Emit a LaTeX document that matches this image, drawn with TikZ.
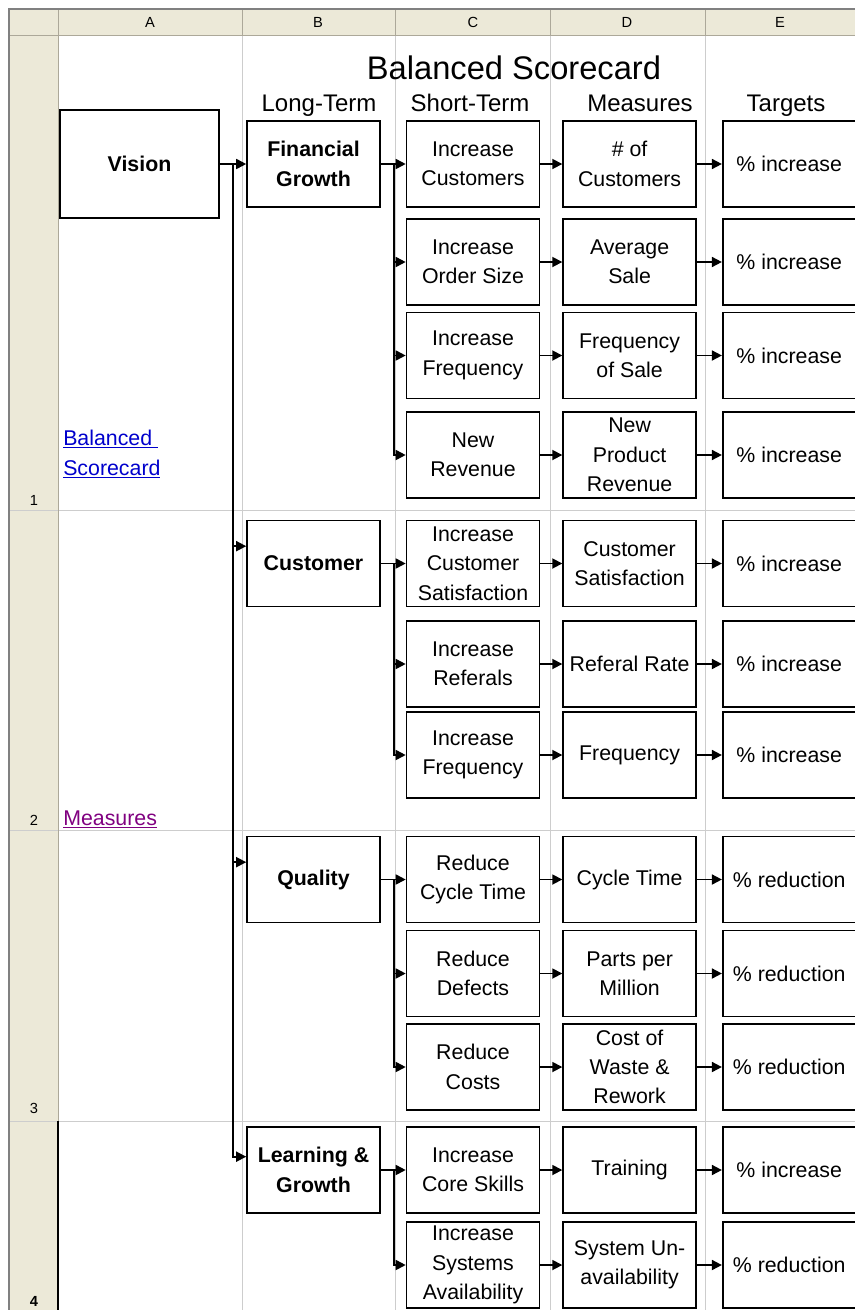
\documentclass[tikz,border=0pt]{standalone}
\usepackage{fontspec}
\setmainfont{Liberation Sans}
\usetikzlibrary{positioning,arrows.meta}
\definecolor{sheethead}{RGB}{236,233,216}
\definecolor{sheetline}{RGB}{205,205,205}
\definecolor{headline}{RGB}{172,168,153}
\definecolor{linkblue}{RGB}{0,0,204}
\definecolor{linkvisited}{RGB}{128,0,128}

\begin{document}
\begin{tikzpicture}[x=0.75pt, y=-0.75pt]
    % Define styles
    \tikzstyle{cell} = [rectangle, draw, line width=1.2pt, fill=white, minimum width=99.75pt, minimum height=64.5pt, inner sep=0pt, align=center, font=\fontsize{16}{22}\selectfont]
    \tikzstyle{theme} = [cell, font=\fontsize{16}{22}\selectfont\bfseries]
    \tikzstyle{arrow} = [line width=1.3pt, -{Triangle[length=7.5pt, width=7.5pt]}]
    \tikzstyle{gridline} = [sheetline, line width=0.75pt]
    \tikzstyle{headtext} = [font=\fontsize{11}{13}\selectfont]
    \tikzstyle{link} = [anchor=base west, inner sep=0pt, align=left, font=\fontsize{16}{22.5}\selectfont]

    % Sheet
    \useasboundingbox (0,0) rectangle (855,1310);
    \fill[sheethead] (9,9) rectangle (855,35);
    \fill[sheethead] (9,35) rectangle (58,1310);
    \foreach \x in {242,395,550,705} \draw[gridline] (\x,35) -- (\x,1310);
    \foreach \y in {510,830,1121} \draw[gridline] (9,\y) -- (855,\y);
    \foreach \x in {58,242,395,550,705} \draw[headline, line width=0.75pt] (\x,9) -- (\x,35);
    \draw[headline, line width=0.75pt] (9,35) -- (855,35);
    \draw[headline, line width=0.75pt] (58,35) -- (58,1310);
    \draw[gray, line width=1pt] (9,1310) -- (9,9) -- (855,9);
    \draw[black, line width=1pt] (58,1121) -- (58,1310);

    % Column and row headings
    \node (hA) [headtext] at (150,22) {A};
    \node (hB) [headtext] at (318,22) {B};
    \node (hC) [headtext] at (473,22) {C};
    \node (hD) [headtext] at (627,22) {D};
    \node (hE) [headtext] at (780,22) {E};
    \node (r1) [headtext, anchor=base] at (34,505) {1};
    \node (r2) [headtext, anchor=base] at (34,825) {2};
    \node (r3) [headtext, anchor=base] at (34,1113) {3};
    \node (r4) [headtext, anchor=base] at (34,1306) {\bfseries 4};

    % Links
    \node (lnkbsc) [link, linkblue] at (63,475) {\underline{Balanced\ }\\\underline{Scorecard}};
    \node (lnkmeas) [link, linkvisited] at (63,825) {\underline{Measures}};

    % Titles
    \node (title) [anchor=base, font=\fontsize{24.5}{28}\selectfont] at (514,79) {Balanced Scorecard};
    \node (longterm) [anchor=base, font=\fontsize{18}{20}\selectfont] at (319,111) {Long-Term};
    \node (shortterm) [anchor=base, font=\fontsize{18}{20}\selectfont] at (470,111) {Short-Term};
    \node (measures) [anchor=base, font=\fontsize{18}{20}\selectfont] at (640,111) {Measures};
    \node (targets) [anchor=base, font=\fontsize{18}{20}\selectfont] at (786,111) {Targets};

    % Nodes
    \node (vision) [theme, minimum width=119.25pt, minimum height=81pt] at (139.5,164) {Vision};
    \node (fin) [theme] at (313.5,164) {Financial\\Growth};
    \node (cust) [theme] at (313.5,563.5) {Customer};
    \node (qual) [theme] at (313.5,879.5) {Quality};
    \node (learn) [theme] at (313.5,1170) {Learning \&\\Growth};

    \node (st1) [cell] at (473,164) {Increase\\Customers};
    \node (st2) [cell] at (473,262) {Increase\\Order Size};
    \node (st3) [cell] at (473,355.5) {Increase\\Frequency};
    \node (st4) [cell] at (473,455) {New\\Revenue};
    \node (st5) [cell] at (473,563.5) {Increase\\Customer\\Satisfaction};
    \node (st6) [cell] at (473,664) {Increase\\Referals};
    \node (st7) [cell] at (473,755) {Increase\\Frequency};
    \node (st8) [cell] at (473,879.5) {Reduce\\Cycle Time};
    \node (st9) [cell] at (473,973.5) {Reduce\\Defects};
    \node (st10) [cell] at (473,1067) {Reduce\\Costs};
    \node (st11) [cell] at (473,1170) {Increase\\Core Skills};
    \node (st12) [cell] at (473,1265) {Increase\\Systems\\Availability};

    \node (ms1) [cell, right=16.5pt of st1] {\# of\\Customers};
    \node (ms2) [cell, right=16.5pt of st2] {Average\\Sale};
    \node (ms3) [cell, right=16.5pt of st3] {Frequency\\of Sale};
    \node (ms4) [cell, right=16.5pt of st4] {New\\Product\\Revenue};
    \node (ms5) [cell, right=16.5pt of st5] {Customer\\Satisfaction};
    \node (ms6) [cell, right=16.5pt of st6] {Referal Rate};
    \node (ms7) [cell, right=16.5pt of st7] {Frequency};
    \node (ms8) [cell, right=16.5pt of st8] {Cycle Time};
    \node (ms9) [cell, right=16.5pt of st9] {Parts per\\Million};
    \node (ms10) [cell, right=16.5pt of st10] {Cost of\\Waste \&\\Rework};
    \node (ms11) [cell, right=16.5pt of st11] {Training};
    \node (ms12) [cell, right=16.5pt of st12] {System Un-\\availability};

    \node (tg1) [cell, right=18.75pt of ms1] {\% increase};
    \node (tg2) [cell, right=18.75pt of ms2] {\% increase};
    \node (tg3) [cell, right=18.75pt of ms3] {\% increase};
    \node (tg4) [cell, right=18.75pt of ms4] {\% increase};
    \node (tg5) [cell, right=18.75pt of ms5] {\% increase};
    \node (tg6) [cell, right=18.75pt of ms6] {\% increase};
    \node (tg7) [cell, right=18.75pt of ms7] {\% increase};
    \node (tg8) [cell, right=18.75pt of ms8] {\% reduction};
    \node (tg9) [cell, right=18.75pt of ms9] {\% reduction};
    \node (tg10) [cell, right=18.75pt of ms10] {\% reduction};
    \node (tg11) [cell, right=18.75pt of ms11] {\% increase};
    \node (tg12) [cell, right=18.75pt of ms12] {\% reduction};

    % Split points
    \coordinate (spine) at (233,164);
    \coordinate (finsplit) at (394,164);
    \coordinate (custsplit) at (394,563.5);
    \coordinate (qualsplit) at (394,879.5);
    \coordinate (learnsplit) at (394,1170);

    % Arrows
    \draw [arrow] (vision) -- (fin);
    \draw [arrow] (spine) |- ([yshift=13pt]cust.west);
    \draw [arrow] (spine) |- ([yshift=13pt]qual.west);
    \draw [arrow] (spine) |- ([yshift=10pt]learn.west);

    \draw [arrow] (fin) -- (st1);
    \draw [arrow] (finsplit) |- (st2);
    \draw [arrow] (finsplit) |- (st3);
    \draw [arrow] (finsplit) |- (st4);
    \draw [arrow] (cust) -- (st5);
    \draw [arrow] (custsplit) |- (st6);
    \draw [arrow] (custsplit) |- (st7);
    \draw [arrow] (qual) -- (st8);
    \draw [arrow] (qualsplit) |- (st9);
    \draw [arrow] (qualsplit) |- (st10);
    \draw [arrow] (learn) -- (st11);
    \draw [arrow] (learnsplit) |- (st12);

    \draw [arrow] (st1) -- (ms1);
    \draw [arrow] (st2) -- (ms2);
    \draw [arrow] (st3) -- (ms3);
    \draw [arrow] (st4) -- (ms4);
    \draw [arrow] (st5) -- (ms5);
    \draw [arrow] (st6) -- (ms6);
    \draw [arrow] (st7) -- (ms7);
    \draw [arrow] (st8) -- (ms8);
    \draw [arrow] (st9) -- (ms9);
    \draw [arrow] (st10) -- (ms10);
    \draw [arrow] (st11) -- (ms11);
    \draw [arrow] (st12) -- (ms12);

    \draw [arrow] (ms1) -- (tg1);
    \draw [arrow] (ms2) -- (tg2);
    \draw [arrow] (ms3) -- (tg3);
    \draw [arrow] (ms4) -- (tg4);
    \draw [arrow] (ms5) -- (tg5);
    \draw [arrow] (ms6) -- (tg6);
    \draw [arrow] (ms7) -- (tg7);
    \draw [arrow] (ms8) -- (tg8);
    \draw [arrow] (ms9) -- (tg9);
    \draw [arrow] (ms10) -- (tg10);
    \draw [arrow] (ms11) -- (tg11);
    \draw [arrow] (ms12) -- (tg12);
\end{tikzpicture}
\end{document}
